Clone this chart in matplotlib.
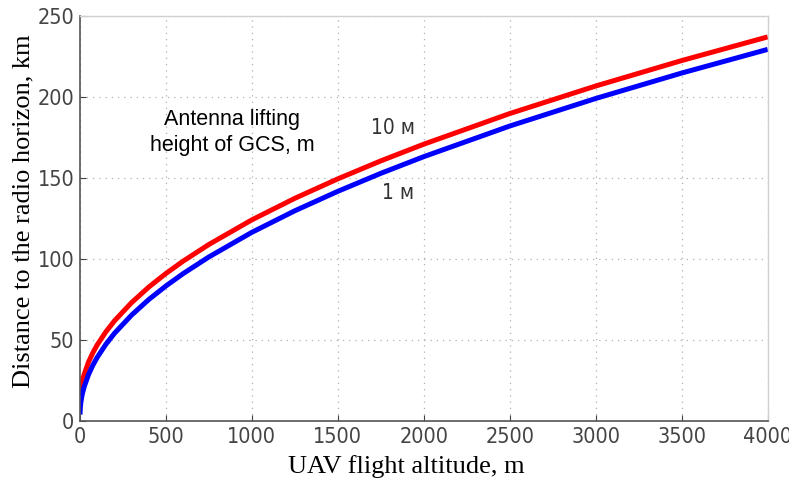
import matplotlib
matplotlib.use("Agg")
import matplotlib.pyplot as plt

# UAV flight altitude, m
altitude = [0, 2, 5, 10, 15, 25, 50, 75, 100, 150, 200, 300, 400, 500, 600, 750,
            1000, 1250, 1500, 1750, 2000, 2500, 3000, 3500, 4000]
# distance to radio horizon, km
horizon_1m = [4, 8.6, 11.5, 14.9, 17.4, 21.4, 28.8, 34.5, 39.3, 47.3, 54.1, 65.4,
              75.0, 83.4, 91.0, 101.3, 116.5, 129.8, 141.8, 152.9, 163.2, 182.1,
              199.1, 214.8, 229.4]
horizon_10m = [11.3, 16.3, 19.3, 22.6, 25.1, 29.1, 36.5, 42.2, 47.0, 55.0, 61.8,
               73.1, 82.7, 91.1, 98.7, 109.0, 124.2, 137.5, 149.5, 160.6, 170.9,
               189.8, 206.8, 222.5, 237.1]

fig = plt.figure(figsize=(7.89, 4.79), dpi=100)
ax = fig.add_axes([0.1014, 0.121, 0.8716, 0.8456])

ax.plot(altitude, horizon_10m, color="#ff0000", lw=3.6, solid_capstyle="butt")
ax.plot(altitude, horizon_1m, color="#0000ff", lw=3.6, solid_capstyle="butt")

ax.set_xlim(0, 4000)
ax.set_ylim(0, 250)
ax.set_xticks(range(0, 4001, 500))
ax.set_yticks(range(0, 251, 50))
ax.grid(True, color="#b0b0b0", linestyle=(0, (1, 4)), lw=0.9)
ax.tick_params(direction="in", length=4, color="#404040", labelcolor="#444444",
               labelsize=15.5, pad=4)
for lab in ax.get_xticklabels() + ax.get_yticklabels():
    lab.set_fontstretch("condensed")

for s in ["left", "bottom"]:
    ax.spines[s].set_color("#555555")
    ax.spines[s].set_linewidth(1.2)
for s in ["top", "right"]:
    ax.spines[s].set_color("#d0d0d0")
    ax.spines[s].set_linewidth(1.0)

ax.set_xlabel("UAV flight altitude, m", family="Liberation Serif", fontsize=19)
ax.set_ylabel("Distance to the radio horizon, km", family="Liberation Serif", fontsize=19)
ax.xaxis.set_label_coords(0.474, -0.085)
ax.yaxis.set_label_coords(-0.066, 0.518)

ax.text(884, 178, "Antenna lifting\nheight of GCS, m", family="Liberation Sans",
        fontsize=15.5, ha="center", va="center", linespacing=1.3)
ax.text(1820, 181, "10 м", fontsize=15, color="#333333", stretch="condensed",
        ha="center", va="center")
ax.text(1850, 141, "1 м", fontsize=15, color="#333333", stretch="condensed",
        ha="center", va="center")

fig.savefig("out.png", dpi=100)
